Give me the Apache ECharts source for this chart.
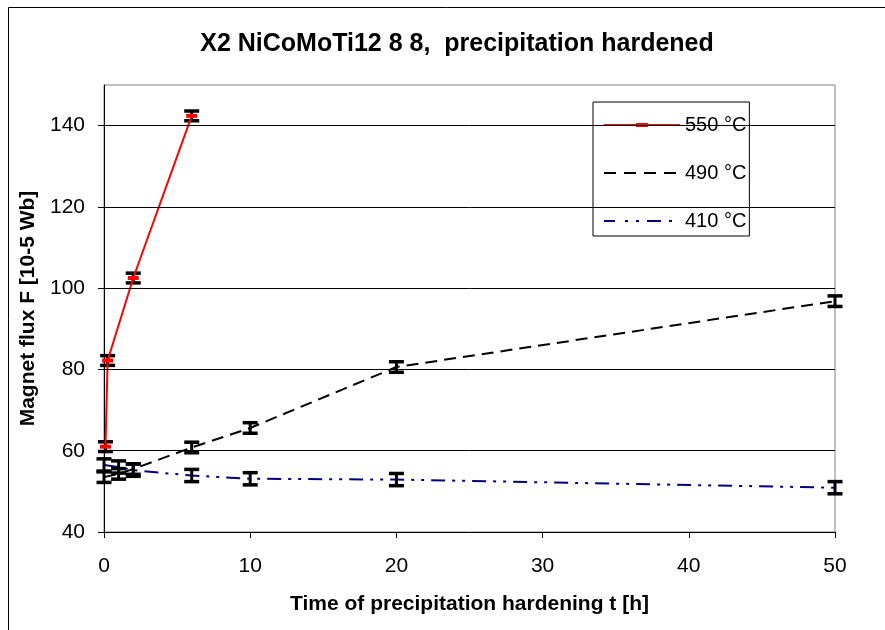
<!DOCTYPE html>
<html>
<head>
<meta charset="utf-8">
<script src="https://cdn.jsdelivr.net/npm/echarts@6/dist/echarts.min.js"></script>
<style>
html,body{margin:0;padding:0;background:#fff;}
#chart{width:885px;height:630px;}
</style>
</head>
<body>
<div id="chart"></div>
<script>
// ---- data ----
const t550 = [0.1, 0.25, 2, 6];
const f550 = [61.0, 82.2, 102.5, 142.4];
const e550 = [1.2, 1.2, 1.2, 1.2];

const t490 = [0, 1, 2, 6, 10, 20, 50];
const f490 = [53.5, 54.3, 55.5, 60.8, 65.6, 80.6, 96.8];
const e490 = [1.3, 1.3, 1.3, 1.3, 1.3, 1.3, 1.3];

const t410 = [0, 1, 2, 6, 10, 20, 50];
const f410 = [56.5, 56.0, 55.2, 53.9, 53.1, 52.9, 50.9];
const e410 = [1.5, 1.5, 1.5, 1.5, 1.5, 1.5, 1.5];

const xTicks = [0, 10, 20, 30, 40, 50];
const yTicks = [40, 60, 80, 100, 120, 140];
const yGridLines = [60, 80, 100, 120, 140];

const seriesNames = ['550 °C', '490 °C', '410 °C'];
// --------------------------------------

const FONT = 'Liberation Sans, Arial, sans-serif';

function pairs(t, f) { return t.map((x, i) => [x, f[i]]); }
function errs(t, f, e) { return t.map((x, i) => [x, f[i], e[i]]); }

function renderErr(params, api) {
  const x = api.value(0), y = api.value(1), e = api.value(2);
  const lo = api.coord([x, y - e]);
  const hi = api.coord([x, y + e]);
  const hw = 7.5;
  const stem = { stroke: '#000', lineWidth: 3 };
  const cap = { stroke: '#000', lineWidth: 3.5 };
  return {
    type: 'group',
    children: [
      { type: 'line', shape: { x1: lo[0], y1: lo[1], x2: hi[0], y2: hi[1] }, style: stem },
      { type: 'line', shape: { x1: lo[0] - hw, y1: lo[1], x2: lo[0] + hw, y2: lo[1] }, style: cap },
      { type: 'line', shape: { x1: hi[0] - hw, y1: hi[1], x2: hi[0] + hw, y2: hi[1] }, style: cap }
    ]
  };
}

// legend icons (76 x 14 boxes; corner points keep the scale 1:1)
const BOX = 'M0,0L0,0M76,14L76,14';
const icon550 = 'path://' + BOX + 'M0,6h76v2H0z M32,5h12v4H32z';
const icon490 = 'path://' + BOX + 'M0,6h12v2H0z M20,6h12v2H20z M40,6h12v2H40z M60,6h12v2H60z';
const icon410 = 'path://' + BOX + 'M0,6h11v2H0z M21,6h3v2H21z M32,6h3v2H32z M43,6h14v2H43z M65,6h3v2H65z';

const chart = echarts.init(document.getElementById('chart'), null, { renderer: 'canvas' });

chart.setOption({
  backgroundColor: '#fff',
  animation: false,
  textStyle: { fontFamily: FONT },
  title: {
    text: 'X2 NiCoMoTi12 8 8,  precipitation hardened',
    left: 452,
    top: 27,
    textAlign: 'center',
    textStyle: { fontFamily: FONT, fontSize: 25, fontWeight: 'bold', color: '#000' }
  },
  graphic: [
    { type: 'rect', shape: { x: 8.5, y: 7.5, width: 900, height: 650 },
      style: { fill: 'none', stroke: '#000', lineWidth: 1 }, z: 100, silent: true }
  ],
  grid: {
    left: 104, right: 50, top: 85, bottom: 98,
    show: true, borderColor: '#808080', borderWidth: 1, backgroundColor: '#fff'
  },
  legend: {
    data: [
      { name: seriesNames[0], icon: icon550 },
      { name: seriesNames[1], icon: icon490 },
      { name: seriesNames[2], icon: icon410 }
    ],
    orient: 'vertical',
    left: 593, top: 102,
    itemWidth: 76, itemHeight: 14, itemGap: 28,
    padding: [13, 3, 5, 11],
    backgroundColor: '#fff',
    borderColor: '#000', borderWidth: 1, borderRadius: 0,
    itemStyle: { borderWidth: 0 },
    textStyle: { fontFamily: FONT, fontSize: 20, color: '#000', lineHeight: 20 }
  },
  xAxis: {
    type: 'value', min: xTicks[0], max: xTicks[xTicks.length - 1], interval: 10,
    name: 'Time of precipitation hardening t [h]',
    nameLocation: 'middle', nameGap: 62,
    nameTextStyle: { fontFamily: FONT, fontSize: 21, fontWeight: 'bold', color: '#000' },
    axisLine: { show: true, onZero: false, lineStyle: { color: '#000', width: 1 } },
    axisTick: { show: true, inside: false, length: 6, lineStyle: { color: '#000' } },
    axisLabel: { fontFamily: FONT, fontSize: 21, color: '#000', margin: 24 },
    splitLine: { show: false }
  },
  yAxis: {
    type: 'value', min: 40, max: 150, interval: 20,
    name: 'Magnet flux F [10-5 Wb]',
    nameLocation: 'middle', nameGap: 58,
    nameTextStyle: { fontFamily: FONT, fontSize: 21, fontWeight: 'bold', color: '#000' },
    axisLine: { show: true, onZero: false, lineStyle: { color: '#000', width: 1 } },
    axisTick: { show: true, inside: false, length: 6, lineStyle: { color: '#000' },
      customValues: yTicks },
    axisLabel: { fontFamily: FONT, fontSize: 21, color: '#000', margin: 19,
      customValues: yTicks },
    splitLine: { show: false }
  },
  series: [
    {
      name: 'grid', type: 'line', data: [], z: 1, silent: true,
      markLine: {
        silent: true, symbol: 'none', animation: false,
        label: { show: false },
        lineStyle: { color: '#000', width: 1, type: 'solid' },
        emphasis: { disabled: true },
        data: yGridLines.map(v => ({ yAxis: v }))
      }
    },
    {
      name: seriesNames[1], type: 'line', data: pairs(t490, f490), z: 2,
      symbol: 'none', showSymbol: false,
      lineStyle: { color: '#000', width: 2, type: [12, 7] },
      itemStyle: { color: '#000' }
    },
    {
      name: seriesNames[2], type: 'line', data: pairs(t410, f410), z: 2,
      symbol: 'none', showSymbol: false,
      lineStyle: { color: '#000080', width: 2, type: [14, 7, 3, 7, 3, 7] },
      itemStyle: { color: '#000080' }
    },
    {
      name: 'err490', type: 'custom', renderItem: renderErr, clip: false, z: 3,
      encode: { x: 0, y: 1 }, data: errs(t490, f490, e490), silent: true
    },
    {
      name: 'err410', type: 'custom', renderItem: renderErr, clip: false, z: 3,
      encode: { x: 0, y: 1 }, data: errs(t410, f410, e410), silent: true
    },
    {
      name: 'err550', type: 'custom', renderItem: renderErr, clip: false, z: 3,
      encode: { x: 0, y: 1 }, data: errs(t550, f550, e550), silent: true
    },
    {
      name: seriesNames[0], type: 'line', data: pairs(t550, f550), z: 4,
      symbol: 'rect', symbolSize: [11, 4], showSymbol: true,
      lineStyle: { color: '#ff0000', width: 2 },
      itemStyle: { color: '#ff0000' }
    }
  ]
});
</script>
</body>
</html>
